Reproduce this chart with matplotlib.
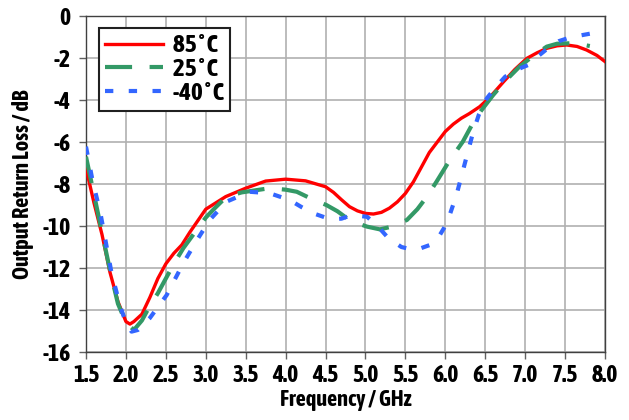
import matplotlib
matplotlib.use("Agg")
import matplotlib.pyplot as plt

plt.rcParams['font.family'] = ['Asap Condensed', 'DejaVu Sans']
plt.rcParams['font.weight'] = 'bold'

x_ticks = [1.5, 2.0, 2.5, 3.0, 3.5, 4.0, 4.5, 5.0, 5.5, 6.0, 6.5, 7.0, 7.5, 8.0]
y_ticks = [0, -2, -4, -6, -8, -10, -12, -14, -16]

red_x = [1.5, 1.6, 1.7, 1.8, 1.9, 2.0, 2.05, 2.1, 2.2, 2.3, 2.4, 2.5, 2.6, 2.7, 2.8, 2.9, 3.0,
         3.25, 3.5, 3.75, 4.0, 4.25, 4.5, 4.6, 4.7, 4.8, 4.9, 5.0, 5.1, 5.2, 5.3, 5.4, 5.5,
         5.6, 5.7, 5.8, 5.9, 6.0, 6.1, 6.2, 6.3, 6.43, 6.55, 6.73, 6.87, 7.02, 7.15, 7.27,
         7.4, 7.52, 7.65, 7.77, 7.9, 8.0]
red_y = [-7.24, -8.9, -10.4, -12.2, -13.6, -14.55, -14.67, -14.55, -14.2, -13.4, -12.5, -11.8,
         -11.3, -10.9, -10.3, -9.75, -9.2, -8.6, -8.2, -7.86, -7.77, -7.85, -8.13, -8.4, -8.75,
         -9.08, -9.28, -9.4, -9.43, -9.35, -9.15, -8.85, -8.45, -7.9, -7.2, -6.5, -6.0, -5.5,
         -5.15, -4.87, -4.65, -4.32, -3.9, -3.13, -2.55, -2.02, -1.75, -1.54, -1.42, -1.38,
         -1.45, -1.62, -1.88, -2.17]

green_x = [1.5, 1.6, 1.7, 1.8, 1.9, 2.0, 2.1, 2.2, 2.3, 2.4, 2.5, 2.6, 2.72, 2.87, 3.0, 3.1,
           3.26, 3.45, 3.64, 3.8, 4.0, 4.14, 4.31, 4.51, 4.65, 4.81, 5.02, 5.18, 5.33, 5.52,
           5.65, 5.77, 5.89, 6.05, 6.22, 6.35, 6.45, 6.6, 6.75, 6.93, 7.1, 7.27, 7.4, 7.56,
           7.7, 7.81]
green_y = [-6.7, -8.5, -10.3, -12.1, -13.7, -14.6, -14.95, -14.5, -13.8, -13.2, -12.5, -11.8,
           -11.05, -10.27, -9.6, -9.2, -8.6, -8.4, -8.29, -8.2, -8.27, -8.37, -8.68, -9.0,
           -9.3, -9.75, -10.03, -10.16, -10.03, -9.71, -9.2, -8.6, -7.89, -6.9, -5.98, -5.07,
           -4.5, -3.76, -3.1, -2.41, -1.9, -1.46, -1.32, -1.30, -1.35, -1.43]

blue_x = [1.5, 1.58, 1.68, 1.82, 1.93, 2.0, 2.07, 2.15, 2.3, 2.51, 2.72, 2.89, 3.05, 3.26,
          3.55, 3.8, 4.05, 4.2, 4.35, 4.56, 4.7, 4.83, 5.02, 5.15, 5.29, 5.45, 5.56, 5.7,
          5.81, 5.92, 6.02, 6.14, 6.25, 6.35, 6.42, 6.52, 6.63, 6.75, 6.9, 7.04, 7.15, 7.29,
          7.42, 7.54, 7.7, 7.83]
blue_y = [-6.22, -7.8, -9.38, -12.24, -13.84, -14.6, -15.03, -14.95, -14.38, -13.29, -11.76,
          -10.67, -9.71, -8.84, -8.37, -8.44, -8.76, -9.1, -9.4, -9.68, -9.65, -9.48, -9.56,
          -10.0, -10.59, -11.0, -11.1, -11.05, -10.9, -10.5, -9.87, -8.52, -6.94, -5.51, -4.7,
          -3.92, -3.4, -2.89, -2.55, -2.33, -1.95, -1.52, -1.2, -1.05, -0.92, -0.83]

labels = ['85\u200a˚\u200aC', '25\u200a˚\u200aC', '-40\u200a˚\u200aC']

fig = plt.figure(figsize=(6.29, 4.2), dpi=100)
ax = fig.add_axes([86/629, 1-352/420, (605-86)/629, (352-16)/420])

ax.plot(red_x, red_y, color='#ff0000', lw=2.4, label=labels[0], zorder=3)
ax.plot(green_x, green_y, color='#339966', lw=3.0, dashes=(6.5, 4.2), label=labels[1], zorder=3)
ax.plot(blue_x, blue_y, color='#3366ff', lw=3.0, dashes=(2.0, 3.7), label=labels[2], zorder=3)

ax.set_xlim(1.5, 8.0)
ax.set_ylim(-16, 0)
ax.set_xticks(x_ticks)
ax.set_xticklabels([f'{v:.1f}' for v in x_ticks])
ax.set_yticks(y_ticks)
ax.set_yticklabels([str(v) for v in y_ticks])
ax.grid(True, color='#b0b0b0', lw=1.2)
ax.set_axisbelow(True)
ax.tick_params(axis='both', direction='out', length=5, width=1, color='#606060',
               labelsize=17)
ax.tick_params(axis='y', pad=6)
ax.tick_params(axis='x', pad=4)
for s in ax.spines.values():
    s.set_color('#404040')
    s.set_linewidth(1.0)

ax.set_xlabel('Frequency / GHz', fontsize=16, fontweight='bold', labelpad=1)
ax.set_ylabel('Output Return Loss / dB', fontsize=16, fontweight='bold', labelpad=6)

leg = ax.legend(loc='upper left', bbox_to_anchor=(0.025, 0.964), fontsize=18,
                frameon=True, fancybox=False, framealpha=1, edgecolor='#202020',
                handlelength=2.3, borderpad=0.25, labelspacing=0.03, handletextpad=0.4,
                borderaxespad=0)
leg.get_frame().set_linewidth(1.5)

fig.savefig('out.png', dpi=100)
